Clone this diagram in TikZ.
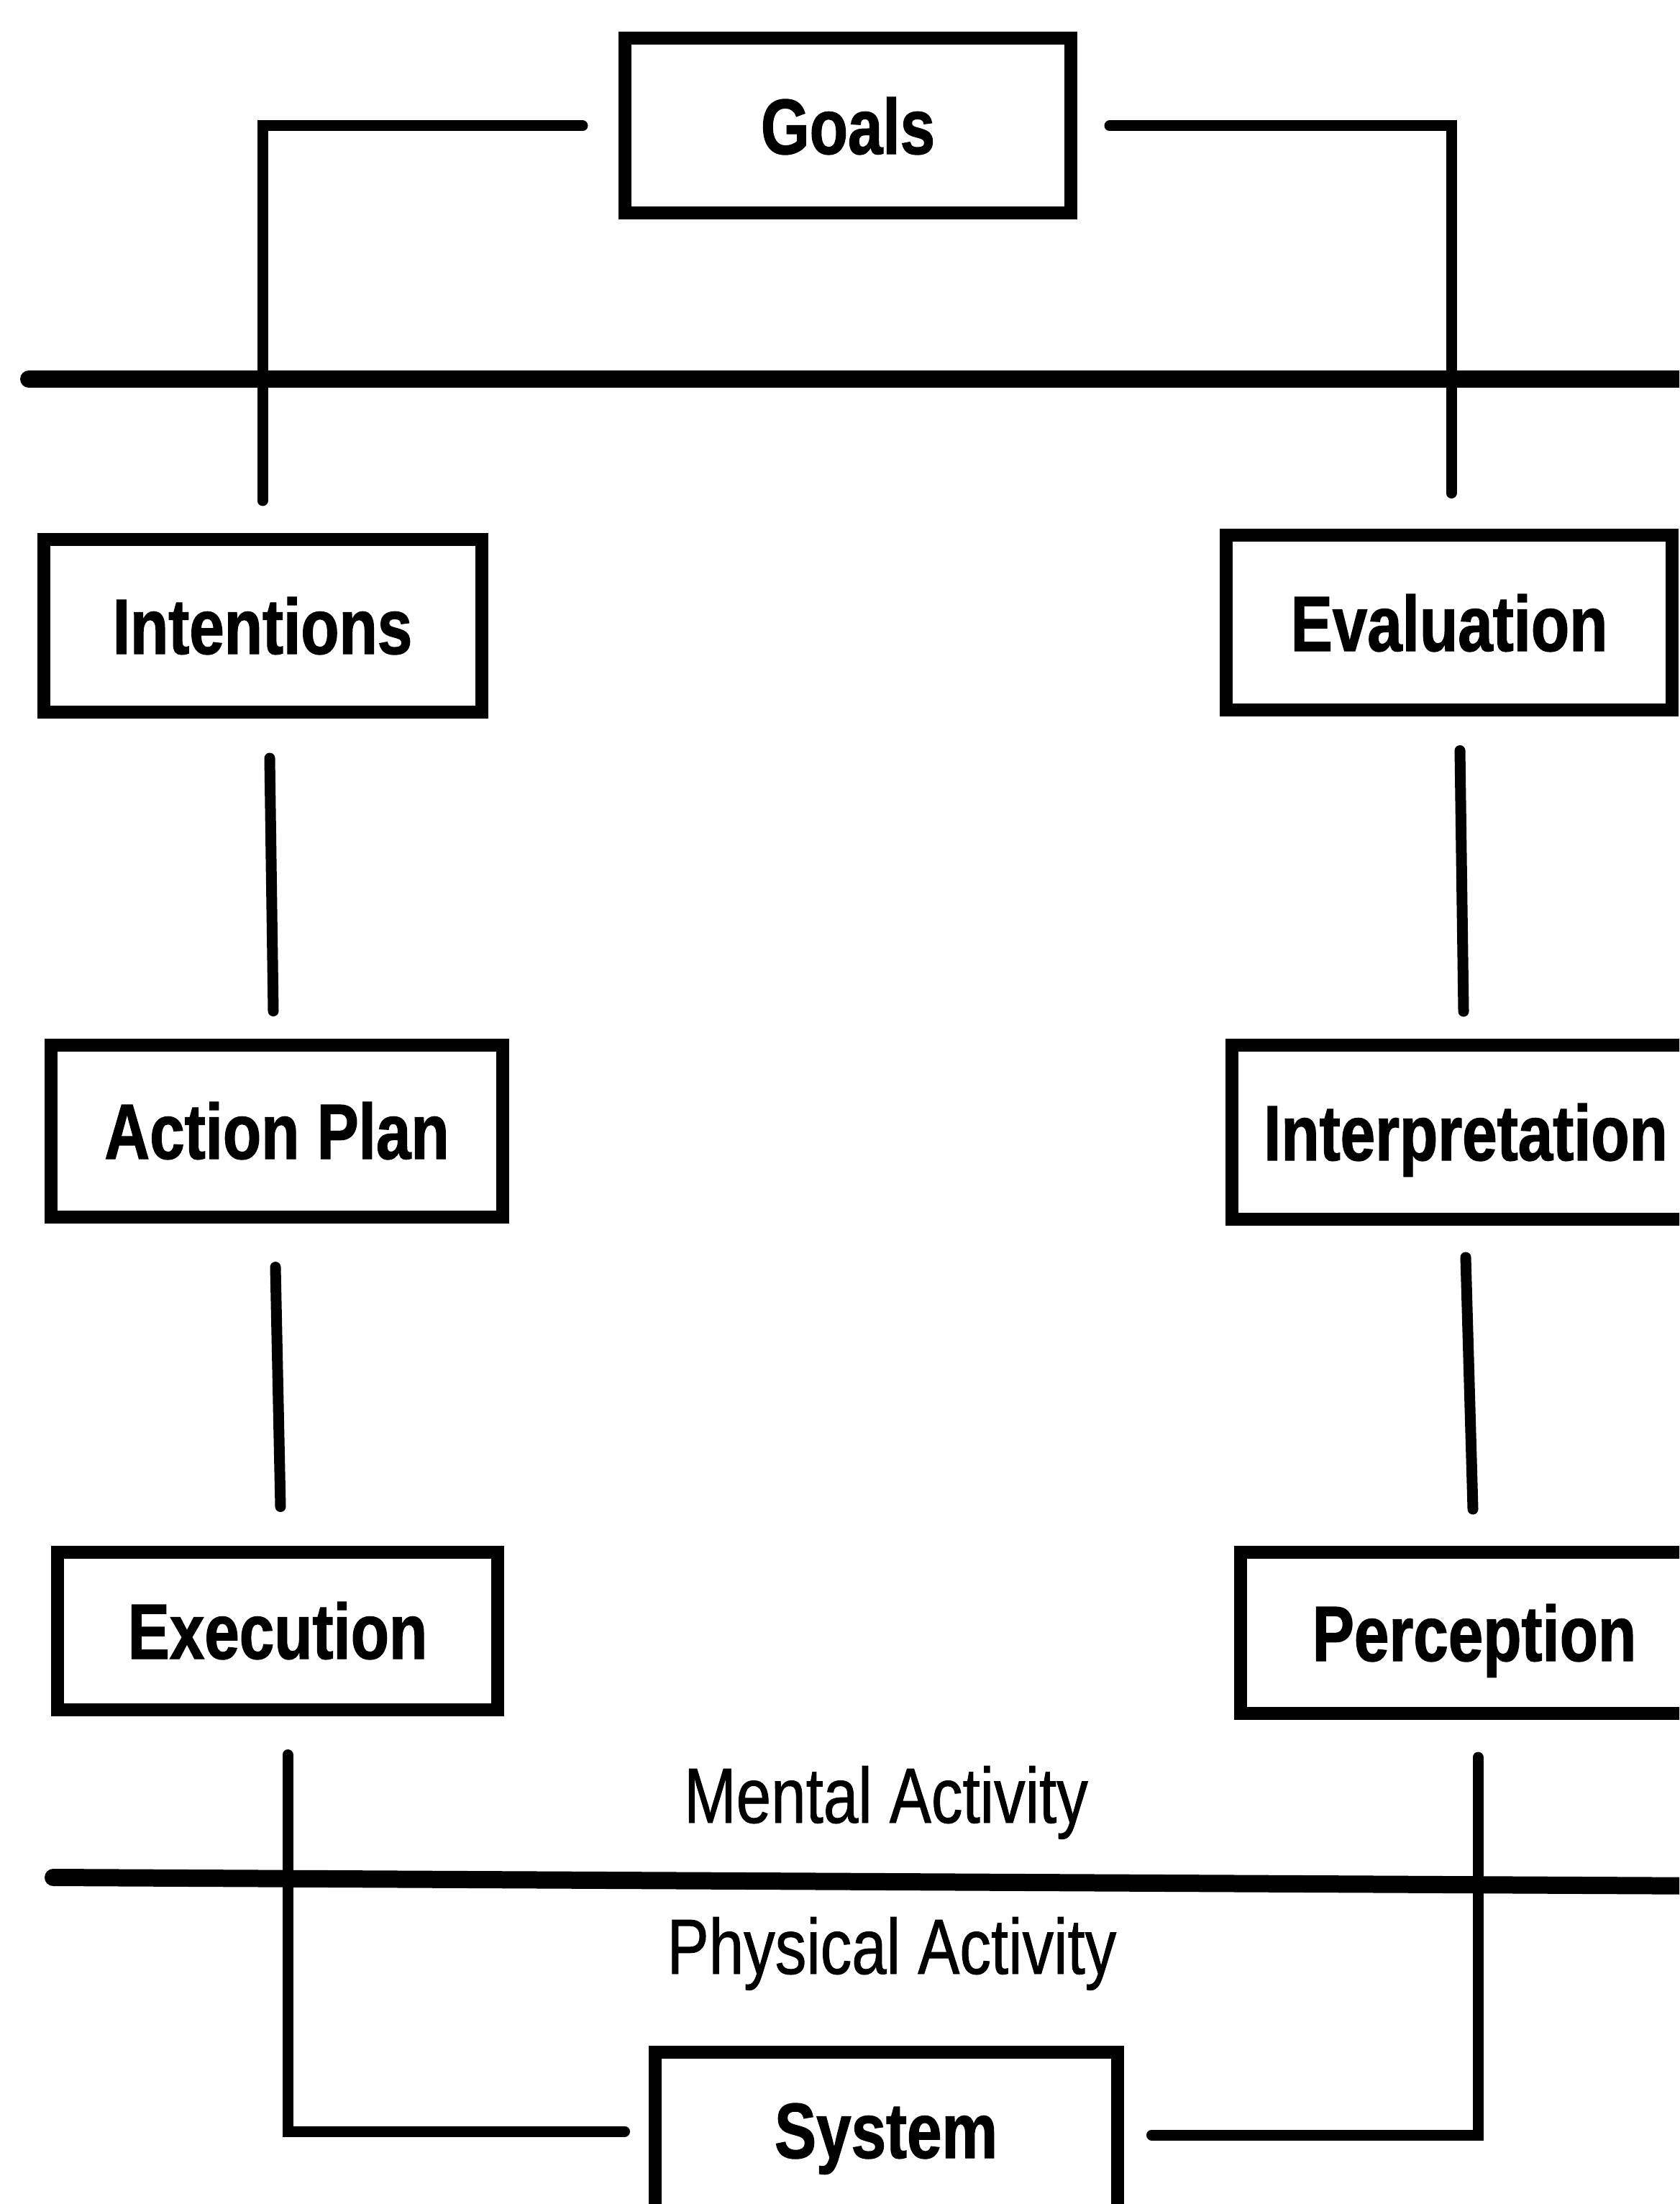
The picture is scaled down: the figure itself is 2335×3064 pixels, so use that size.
\documentclass[tikz,border=0pt]{standalone}
\usepackage{fontspec}
\newfontfamily\diagfont{Liberation Sans}[FakeStretch=0.8, FakeBold=0.8]
\newfontfamily\stagefont{Liberation Sans Bold}[FakeStretch=0.8, FakeBold=1.2]

\tikzset{
  stage/.style={draw, line width=1.8mm, inner sep=0pt,
    font=\stagefont\fontsize{31}{36}\selectfont,
    text height=7.8mm, text depth=0pt},
  link/.style={line width=1.5mm, line cap=round},
  divider/.style={line width=2.4mm, line cap=round},
  layer/.style={font=\diagfont\fontsize{31}{36}\selectfont, inner sep=0pt, anchor=base},
}

\begin{document}
\begin{tikzpicture}[x=0.1mm, y=-0.1mm]
  \path[use as bounding box] (0,0) rectangle (2335,3064);
  \clip (0,0) rectangle (2335,3064);

  % stages of the action cycle
  \node[stage, minimum width=62mm, minimum height=24.3mm] (goals) at (1179,175) {Goals};
  \node[stage, minimum width=60.9mm, minimum height=24mm] (intentions) at (365,870) {Intentions};
  \node[stage, minimum width=62mm, minimum height=24.3mm] (evaluation) at (2015,866) {Evaluation};
  \node[stage, minimum width=62.8mm, minimum height=23.9mm] (actionplan) at (385,1572) {Action Plan};
  \node[stage, minimum width=65mm, minimum height=24.2mm] (interpretation) at (2038,1574) {Interpretation};
  \node[stage, minimum width=61.2mm, minimum height=21.9mm] (execution) at (386,2267) {Execution};
  \node[stage, minimum width=65mm, minimum height=22.4mm] (perception) at (2050,2270) {Perception};
  \node[stage, anchor=base, minimum width=64.3mm, minimum height=0pt,
        text height=14.7mm, text depth=20mm] (system) at (1232,3000) {System};

  % layer separators and their labels
  \coordinate (topL) at (40,527);
  \coordinate (topR) at (2400,527);
  \coordinate (midL) at (74,2610);
  \coordinate (midR) at (2400,2622);
  \draw[divider] (topL) -- (topR);
  \draw[divider] (midL) -- (midR);
  \node[layer] (mental) at (1232,2534) {Mental Activity};
  \node[layer] (physical) at (1240,2744) {Physical Activity};

  % connectors
  \draw[link] ([xshift=-5mm]goals.west) -| ([yshift=4.5mm]intentions.north);
  \draw[link] ([xshift=4.5mm]goals.east) -| ([xshift=0.3mm,yshift=5mm]evaluation.north);
  \draw[link] ([xshift=1mm,yshift=-5.5mm]intentions.south) -- ([xshift=-0.5mm,yshift=3.8mm]actionplan.north);
  \draw[link] ([xshift=1.5mm,yshift=-4.7mm]evaluation.south) -- ([xshift=-0.3mm,yshift=3.8mm]interpretation.north);
  \draw[link] ([xshift=-0.2mm,yshift=-6.1mm]actionplan.south) -- ([xshift=0.4mm,yshift=5.4mm]execution.north);
  \draw[link] ([yshift=-4.4mm]interpretation.south) -- ([xshift=-0.2mm,yshift=5.1mm]perception.north);
  \draw[link] ([xshift=1.4mm,yshift=-5.4mm]execution.south) |- ([xshift=-3.3mm,yshift=3.7mm]system.base west);
  \draw[link] ([xshift=0.5mm,yshift=-5.2mm]perception.south) |- ([xshift=3.9mm,yshift=3.2mm]system.base east);
\end{tikzpicture}
\end{document}
